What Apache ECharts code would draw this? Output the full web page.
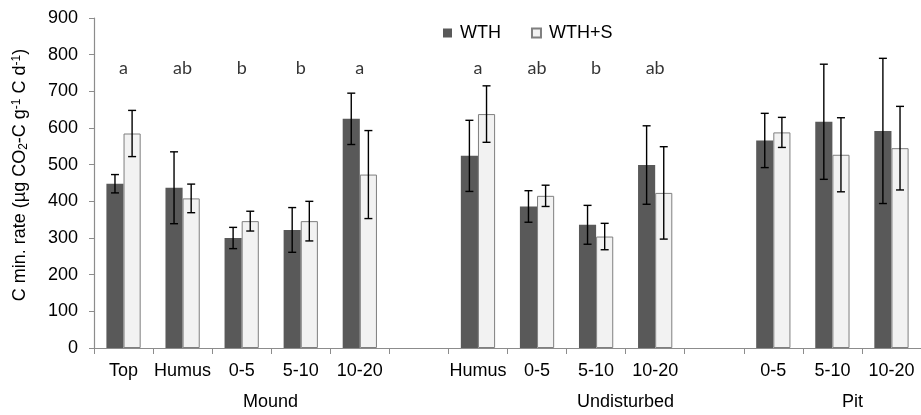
<!DOCTYPE html>
<html><head><meta charset="utf-8">
<script src="https://cdn.jsdelivr.net/npm/echarts@6/dist/echarts.min.js"></script>
<style>html,body{margin:0;padding:0;background:#fff}#c{width:921px;height:415px}</style>
</head><body><div id="c"></div>
<script>
var categories = ['Top','Humus','0-5','5-10','10-20','','Humus','0-5','5-10','10-20','','0-5','5-10','10-20'];
var wth      = [448, 437, 300, 322, 625, null, 524, 386, 336, 499, null, 566, 617, 592];
var wthErr   = [ 25,  98,  29,  61,  70, null,  97,  43,  53, 107, null,  74, 157, 198];
var wthS     = [585, 408, 346, 346, 473, null, 638, 415, 304, 423, null, 588, 527, 545];
var wthSErr  = [ 63,  39,  27,  54, 120, null,  77,  29,  36, 126, null,  41, 101, 114];
var letters  = ['a','ab','b','b','a','','a','ab','b','ab','','','',''];
var groups   = ['Mound','Undisturbed','Pit'];
var yTicks   = [0, 900, 100];

var CAT_GAP = 0.42;
function errData(vals, errs){
  var out = [];
  vals.forEach(function(v,i){ if(v!=null) out.push([i, v - errs[i], v + errs[i]]); });
  return out;
}
function errSeries(vals, errs, side){
  return {
    type:'custom', z:5,
    data: errData(vals, errs),
    encode:{x:0, y:[1,2]},
    renderItem: function(params, api){
      var bw = api.size([1,0])[0];
      var barW = bw*(1-CAT_GAP)/2;
      var lo = api.coord([api.value(0), api.value(1)]);
      var hi = api.coord([api.value(0), api.value(2)]);
      var x = lo[0] + side*barW/2;
      var cap = 4;
      var st = {stroke:'#000', lineWidth:1.4};
      return {type:'group', children:[
        {type:'line', shape:{x1:x,y1:lo[1],x2:x,y2:hi[1]}, style:st},
        {type:'line', shape:{x1:x-cap,y1:lo[1],x2:x+cap,y2:lo[1]}, style:st},
        {type:'line', shape:{x1:x-cap,y1:hi[1],x2:x+cap,y2:hi[1]}, style:st}
      ]};
    }
  };
}
var letterData = [];
letters.forEach(function(l,i){ if(l) letterData.push([i, 763, l]); });

var FONT = 'Liberation Sans, Arial, sans-serif';
var chart = echarts.init(document.getElementById('c'));
chart.setOption({
  animation:false,
  textStyle:{fontFamily:FONT},
  grid:{left:94, right:-3, top:18, bottom:67},
  legend:{
    left:438, top:19, itemWidth:9, itemHeight:9, itemGap:30, icon:'rect',
    textStyle:{fontSize:18, color:'#000', fontFamily:FONT, padding:[0,0,0,3]},
    data:['WTH','WTH+S']
  },
  xAxis:{
    type:'category', data:categories,
    axisLine:{lineStyle:{color:'#8c8c8c', width:1.2}},
    axisTick:{show:true, interval:0, length:6, lineStyle:{color:'#8c8c8c'}},
    axisLabel:{interval:0, fontSize:18, color:'#000', margin:14, fontFamily:FONT}
  },
  yAxis:{
    type:'value', min:yTicks[0], max:yTicks[1], interval:yTicks[2],
    axisLine:{show:true, lineStyle:{color:'#8c8c8c', width:1.2}},
    axisTick:{show:true, length:5, lineStyle:{color:'#8c8c8c'}},
    splitLine:{show:false},
    axisLabel:{fontSize:18, color:'#000', margin:16, fontFamily:FONT},
    name:'{t|C min. rate (µg CO}{sub|2}{t|-C g}{sup|-1}{t| C d}{sup|-1}{t|)}',
    nameLocation:'middle', nameRotate:90, nameGap:64,
    nameTextStyle:{
      padding:[0,0,0,16],
      rich:{
        t:{fontSize:18, color:'#000', fontFamily:FONT},
        sub:{fontSize:12, color:'#000', fontFamily:FONT, verticalAlign:'bottom', padding:[7,0,0,0]},
        sup:{fontSize:12, color:'#000', fontFamily:FONT, verticalAlign:'top', padding:[0,0,7,0]}
      }
    }
  },
  series:[
    {name:'WTH', type:'bar', data:wth, barGap:'0%', barCategoryGap:(CAT_GAP*100)+'%',
     itemStyle:{color:'#595959', borderColor:'#595959', borderWidth:0}},
    {name:'WTH+S', type:'bar', data:wthS, barGap:'0%', barCategoryGap:(CAT_GAP*100)+'%',
     itemStyle:{color:'#f2f2f2', borderColor:'#7f7f7f', borderWidth:1}},
    errSeries(wth, wthErr, -1),
    errSeries(wthS, wthSErr, 1),
    {type:'scatter', symbolSize:0, data:letterData, z:6,
     label:{show:true, position:'inside', formatter:function(p){return p.data[2];},
            fontSize:18, color:'#000', fontFamily:'Lato, Open Sans, sans-serif'}}
  ],
  graphic:[
    {type:'text', left:243, top:393, style:{text:groups[0], fontSize:18, fill:'#000', fontFamily:FONT, textAlign:'center'}},
    {type:'text', left:577, top:393, style:{text:groups[1], fontSize:18, fill:'#000', fontFamily:FONT, textAlign:'center'}},
    {type:'text', left:842, top:393, style:{text:groups[2], fontSize:18, fill:'#000', fontFamily:FONT, textAlign:'center'}}
  ]
});
</script></body></html>
